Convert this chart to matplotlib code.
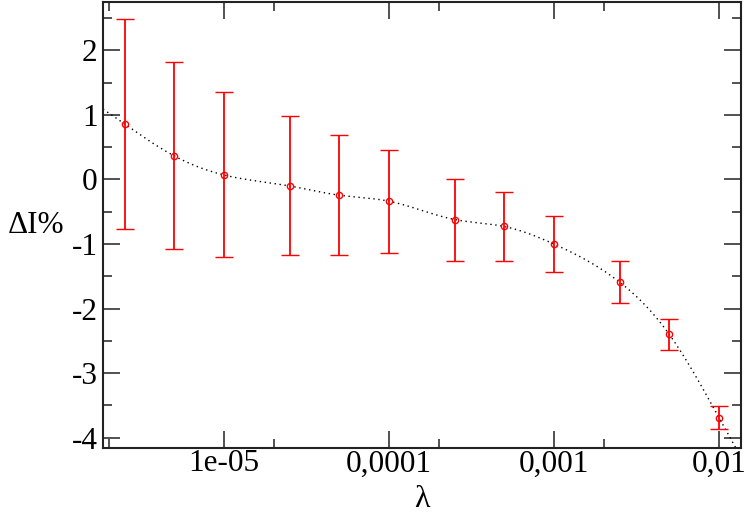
import matplotlib
matplotlib.use('Agg')
import matplotlib.pyplot as plt
import numpy as np
from matplotlib import ticker

plt.rcParams['font.family'] = ['Liberation Serif', 'DejaVu Serif']
plt.rcParams['axes.unicode_minus'] = False

# data
lam = np.array([2.5e-6, 5e-6, 1e-5, 2.5e-5, 5e-5, 1e-4,
                2.5e-4, 5e-4, 1e-3, 2.5e-3, 5e-3, 1e-2])
dI = np.array([0.86, 0.365, 0.07, -0.10, -0.243, -0.336,
               -0.62, -0.728, -1.0, -1.59, -2.40, -3.69])
bar_top = np.array([2.48, 1.816, 1.35, 0.98, 0.697, 0.464,
                    0.015, -0.192, -0.568, -1.265, -2.158, -3.51])
bar_bot = np.array([-0.765, -1.08, -1.207, -1.17, -1.17, -1.14,
                    -1.265, -1.26, -1.44, -1.91, -2.64, -3.87])

xticks = [1e-5, 1e-4, 1e-3, 1e-2]
xticklabels = ['1e-05', '0,0001', '0,001', '0,01']

xlim = (1.85e-6, 1.36e-2)
ylim = (-4.16, 2.75)


def natural_spline(xk, yk, x):
    # natural cubic spline through (xk, yk), end pieces extended outside
    n = len(xk)
    h = np.diff(xk)
    A = np.zeros((n, n))
    b = np.zeros(n)
    A[0, 0] = A[-1, -1] = 1.0
    for i in range(1, n - 1):
        A[i, i - 1] = h[i - 1]
        A[i, i] = 2 * (h[i - 1] + h[i])
        A[i, i + 1] = h[i]
        b[i] = 6 * ((yk[i + 1] - yk[i]) / h[i] - (yk[i] - yk[i - 1]) / h[i - 1])
    M = np.linalg.solve(A, b)
    idx = np.clip(np.searchsorted(xk, x) - 1, 0, n - 2)
    x0, x1 = xk[idx], xk[idx + 1]
    hh = x1 - x0
    return (M[idx] * (x1 - x)**3 / (6 * hh) + M[idx + 1] * (x - x0)**3 / (6 * hh)
            + (yk[idx] / hh - M[idx] * hh / 6) * (x1 - x)
            + (yk[idx + 1] / hh - M[idx + 1] * hh / 6) * (x - x0))


fig = plt.figure(figsize=(7.47, 5.13), dpi=100)
ax = fig.add_axes([103/747, 65/513, 638/747, 446/513])

xs = np.logspace(np.log10(xlim[0]), np.log10(xlim[1]), 500)
ys = natural_spline(np.log10(lam), dI, np.log10(xs))
ax.plot(xs, ys, color='black', lw=1.0, ls=(0, (1, 2.6)), zorder=2)

yerr = np.vstack([dI - bar_bot, bar_top - dI])
ax.errorbar(lam, dI, yerr=yerr, fmt='o', color='red', ecolor='red',
            mfc='none', mec='red', ms=4.5, mew=1.0, elinewidth=1.3,
            capsize=6.5, capthick=1.3, zorder=3)

ax.set_xscale('log')
ax.set_xlim(*xlim)
ax.set_ylim(*ylim)

ax.xaxis.set_major_locator(ticker.FixedLocator(xticks))
ax.xaxis.set_major_formatter(ticker.FixedFormatter(xticklabels))
ax.xaxis.set_minor_locator(ticker.LogLocator(base=10, subs=[2.0]))
ax.xaxis.set_minor_formatter(ticker.NullFormatter())
ax.yaxis.set_major_locator(ticker.MultipleLocator(1))
ax.yaxis.set_minor_locator(ticker.MultipleLocator(0.5))
ax.yaxis.set_major_formatter(ticker.FuncFormatter(lambda v, p: '%d' % v))

ax.tick_params(which='both', direction='in', top=True, right=True,
               labelsize=22.5, color='#333333', width=1.2)
ax.tick_params(which='major', length=12)
ax.tick_params(which='minor', length=6.5)
ax.tick_params(axis='x', pad=1)
ax.tick_params(axis='y', pad=4)

for sp in ax.spines.values():
    sp.set_linewidth(1.5)
    sp.set_color('#222222')

ax.set_xlabel('λ', fontsize=23, va='center')
ax.xaxis.set_label_coords(0.5, -0.115)
ax.set_ylabel('ΔI%', fontsize=22.5, rotation=0, ha='center', va='center')
ax.yaxis.set_label_coords(-0.105, 0.498)

plt.savefig('out.png', dpi=100)
